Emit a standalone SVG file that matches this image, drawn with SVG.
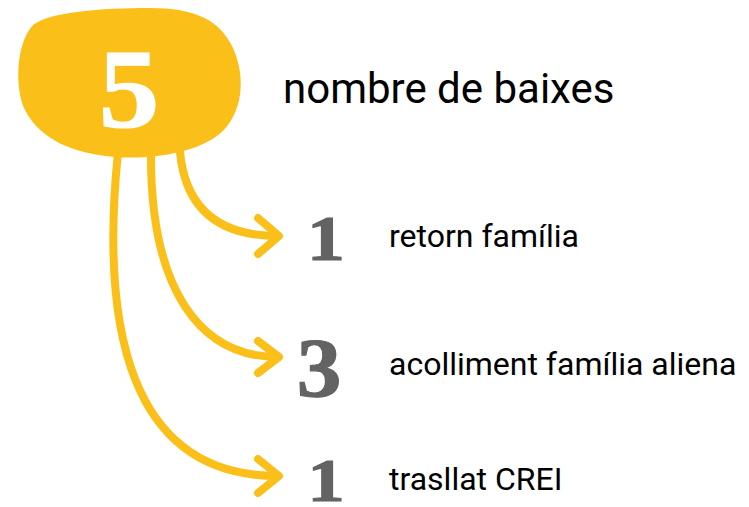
<svg xmlns="http://www.w3.org/2000/svg" width="749" height="507" viewBox="0 0 749 507">
<style>
.conn{fill:none;stroke:#FBBF1A;stroke-width:8;stroke-linecap:round;stroke-linejoin:round}
.num{font-family:"Liberation Serif",serif;font-weight:bold;fill:#636363;stroke:#636363;stroke-width:1.2}
.lbl{font-family:Roboto,"Liberation Sans",sans-serif;fill:#000}
</style>
<rect width="749" height="507" fill="#fff"/>
<g id="total">
<path d="M33,25 C50,12 100,8 150,8 C195,8 220,20 233,48 C245,75 243,105 228,125 C210,150 160,160 115,157 C75,154 40,140 25,110 C15,90 15,45 33,25 Z" fill="#FBBF1A"/>
<text x="0" y="127" text-anchor="middle" class="num" style="fill:#fff;stroke:#fff" font-size="112" transform="translate(129,0) scale(1.08,1)">5</text>
<text x="283" y="103" class="lbl" font-size="42">nombre de baixes</text>
</g>
<g id="connectors">
<path class="conn" d="M180,152 C185,205 215,236 278,236"/>
<path class="conn" d="M258,218 L279,236 L258,254"/>
<path class="conn" d="M151,152 C150,290 200,357 278,357"/>
<path class="conn" d="M258,341 L279,357 L258,373"/>
<path class="conn" d="M118,152 C100,330 130,476 278,476"/>
<path class="conn" d="M258,459 L279,476 L258,493"/>
</g>
<g id="retorn">
<text x="0" y="260" text-anchor="middle" class="num" font-size="63" transform="translate(326,0) scale(1.2,1)">1</text>
<text x="389" y="247" class="lbl" font-size="32">retorn família</text>
</g>
<g id="acolliment">
<text x="0" y="397" text-anchor="middle" class="num" font-size="85" transform="translate(319,0) scale(1.05,1)">3</text>
<text x="389" y="375" class="lbl" font-size="32">acolliment família aliena</text>
</g>
<g id="trasllat">
<text x="0" y="501" text-anchor="middle" class="num" font-size="62" transform="translate(326,0) scale(1.2,1)">1</text>
<text x="389" y="490" class="lbl" font-size="32">trasllat CREI</text>
</g>
</svg>
